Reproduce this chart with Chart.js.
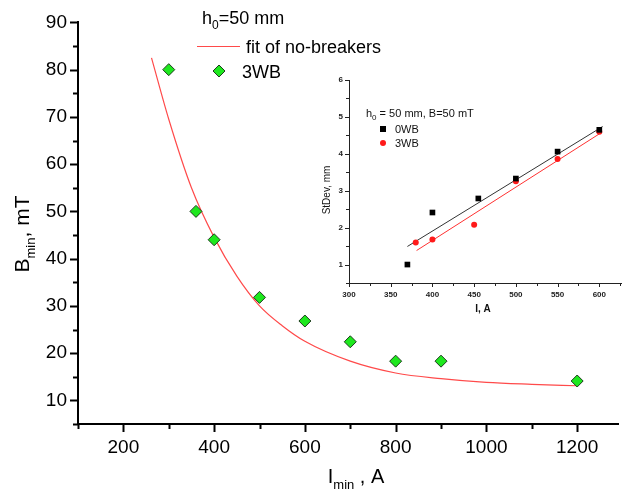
<!DOCTYPE html>
<html>
<head>
<meta charset="utf-8">
<script src="https://cdn.jsdelivr.net/npm/chart.js@4/dist/chart.umd.min.js"></script>
<style>
  html, body { margin: 0; padding: 0; background: #fff; }
  #wrap { position: relative; width: 625px; height: 491px; overflow: hidden; }
  #mainChart { position: absolute; left: 0; top: 0; }
  #insetChart { position: absolute; left: 300px; top: 60px; }
</style>
</head>
<body>
<div id="wrap">
  <canvas id="mainChart" width="625" height="491"></canvas>
  <canvas id="insetChart" width="325" height="260"></canvas>
</div>
<script>
"use strict";

// ---------- Data: main chart ----------
const fitI = [262, 300, 350, 400, 450, 500, 550, 600, 700, 800, 900, 1000, 1100, 1200];
const fitB = [82.5, 69.5, 55, 44.5, 36.3, 30, 25.8, 22.5, 18.3, 15.8, 14.6, 13.8, 13.4, 13.1];
const wb3I = [300, 360, 400, 500, 600, 700, 800, 900, 1200];
const wb3B = [80, 50, 44, 31.8, 26.8, 22.4, 18.3, 18.3, 14.1];

const mainXMajor = [200, 400, 600, 800, 1000, 1200];
const mainXMinor = [100, 300, 500, 700, 900, 1100];
const mainYMajor = [10, 20, 30, 40, 50, 60, 70, 80, 90];
const mainYMinor = [5, 15, 25, 35, 45, 55, 65, 75, 85];

// ---------- Data: inset ----------
const ins0I = [370, 400, 455, 500, 550, 600];
const ins0S = [1.0, 2.41, 2.79, 3.33, 4.06, 4.65];
const ins3I = [380, 400, 450, 500, 550, 600];
const ins3S = [1.6, 1.68, 2.08, 3.26, 3.86, 4.6];
const fit0I = [370, 604];
const fit0S = [1.49, 4.74];
const fit3I = [381, 600];
const fit3S = [1.38, 4.54];

const insXMajor = [300, 350, 400, 450, 500, 550, 600];
const insXMinor = [325, 375, 425, 475, 525, 575, 625];
const insYMajor = [1, 2, 3, 4, 5, 6];
const insYMinor = [0.5, 1.5, 2.5, 3.5, 4.5, 5.5];

const FONT = "'Liberation Sans', Arial, sans-serif";

function pts(xs, ys) {
  return xs.map((x, i) => ({ x, y: ys[i] }));
}

// text with subscripts: parts = [[text, isSub], ...]
function drawParts(ctx, parts, x, y, size, subSize, subDrop, align, weight) {
  const w = weight ? weight + " " : "";
  let total = 0;
  for (const [t, sub] of parts) {
    ctx.font = w + (sub ? subSize : size) + "px " + FONT;
    total += ctx.measureText(t).width;
  }
  let cx = align === "center" ? x - total / 2 : x;
  for (const [t, sub] of parts) {
    ctx.font = w + (sub ? subSize : size) + "px " + FONT;
    ctx.fillText(t, cx, sub ? y + subDrop : y);
    cx += ctx.measureText(t).width;
  }
}

function tickPlugin(id, marks, color, width) {
  return {
    id,
    afterDraw(chart) {
      const ctx = chart.ctx;
      ctx.save();
      ctx.strokeStyle = color;
      ctx.lineWidth = width;
      for (const [scaleId, list, len] of marks) {
        const s = chart.scales[scaleId];
        for (const v of list) {
          const p = Math.round(s.getPixelForValue(v)) + 0.5;
          ctx.beginPath();
          if (s.isHorizontal()) {
            const y0 = chart.chartArea.bottom;
            ctx.moveTo(p, y0);
            ctx.lineTo(p, y0 + len);
          } else {
            const x0 = chart.chartArea.left;
            ctx.moveTo(x0, p);
            ctx.lineTo(x0 - len, p);
          }
          ctx.stroke();
        }
      }
      ctx.restore();
    }
  };
}

function fixTicks(list) {
  return function (scale) {
    scale.ticks = list.map(v => ({ value: v }));
  };
}

const plainLabel = v => String(v);

// ---------- Main chart ----------
const mainText = {
  id: "mainText",
  afterDraw(chart) {
    const ctx = chart.ctx;
    ctx.save();
    ctx.fillStyle = "#000";
    ctx.textBaseline = "alphabetic";
    ctx.textAlign = "left";

    // x title
    drawParts(ctx, [["I", 0], ["min", 1], [" , A", 0]], 356, 483, 20, 13, 6, "center");

    // y title
    ctx.translate(29, 234);
    ctx.rotate(-Math.PI / 2);
    drawParts(ctx, [["B", 0], ["min", 1], [", mT", 0]], 0, 0, 21, 13, 6, "center");
    ctx.setTransform(1, 0, 0, 1, 0, 0);

    // legend
    drawParts(ctx, [["h", 0], ["0", 1], ["=50 mm", 0]], 202, 24, 18, 12, 5, "left");
    ctx.strokeStyle = "#ff4a4a";
    ctx.lineWidth = 1;
    ctx.beginPath();
    ctx.moveTo(197, 46.5);
    ctx.lineTo(240, 46.5);
    ctx.stroke();
    ctx.font = "18px " + FONT;
    ctx.fillText(chart.data.datasets[1].label, 246, 53);

    ctx.fillStyle = "#1ee81e";
    ctx.strokeStyle = "#1d3b1d";
    ctx.beginPath();
    ctx.moveTo(213, 71);
    ctx.lineTo(219, 65);
    ctx.lineTo(225, 71);
    ctx.lineTo(219, 77);
    ctx.closePath();
    ctx.fill();
    ctx.stroke();
    ctx.fillStyle = "#000";
    ctx.fillText(chart.data.datasets[0].label, 242, 78);
    ctx.restore();
  }
};

new Chart(document.getElementById("mainChart"), {
  type: "scatter",
  data: {
    datasets: [
      {
        label: "3WB",
        data: pts(wb3I, wb3B),
        pointStyle: "rectRot",
        pointRadius: 6,
        backgroundColor: "#1ee81e",
        borderColor: "#1d3b1d",
        borderWidth: 1
      },
      {
        label: "fit of no-breakers",
        data: pts(fitI, fitB),
        showLine: true,
        pointRadius: 0,
        borderColor: "#ff4a4a",
        borderWidth: 1.2,
        cubicInterpolationMode: "monotone"
      }
    ]
  },
  options: {
    responsive: false,
    animation: false,
    layout: { padding: { top: 18, right: 0, left: 0, bottom: 0 } },
    plugins: { legend: { display: false }, tooltip: { enabled: false } },
    scales: {
      x: {
        type: "linear",
        min: 100,
        max: 1290,
        afterBuildTicks: fixTicks(mainXMajor),
        afterFit: s => { s.height = 67; },
        grid: { display: false, drawTicks: false },
        border: { color: "#000", width: 2 },
        ticks: {
          autoSkip: false,
          maxRotation: 0,
          padding: 12,
          color: "#000",
          callback: plainLabel,
          font: { family: FONT, size: 19 }
        }
      },
      y: {
        type: "linear",
        min: 5,
        max: 90,
        afterBuildTicks: fixTicks(mainYMajor),
        afterFit: s => { s.width = 78; },
        grid: { display: false, drawTicks: false },
        border: { color: "#000", width: 2 },
        ticks: {
          autoSkip: false,
          padding: 11,
          color: "#000",
          callback: plainLabel,
          font: { family: FONT, size: 19 }
        }
      }
    }
  },
  plugins: [
    tickPlugin("mainTicks", [
      ["x", mainXMajor, 8], ["x", mainXMinor, 5],
      ["y", mainYMajor, 8], ["y", mainYMinor, 5]
    ], "#000", 2),
    mainText
  ]
});

// ---------- Inset chart ----------
const insetText = {
  id: "insetText",
  afterDraw(chart) {
    const ctx = chart.ctx;
    ctx.save();
    ctx.fillStyle = "#111";
    ctx.textBaseline = "alphabetic";

    drawParts(ctx, [["I, A", 0]], 183, 252, 10, 10, 0, "center", "bold");

    ctx.translate(30, 130);
    ctx.rotate(-Math.PI / 2);
    drawParts(ctx, [["StDev, mm", 0]], 0, 0, 10, 10, 0, "center");
    ctx.setTransform(1, 0, 0, 1, 0, 0);

    drawParts(ctx, [["h", 0], ["0", 1], [" = 50 mm, B=50 mT", 0]], 66, 57, 11, 8, 3, "left");

    ctx.fillStyle = "#000";
    ctx.fillRect(80, 66, 6, 6);
    ctx.fillStyle = "#ff1a1a";
    ctx.beginPath();
    ctx.arc(83, 83, 3, 0, Math.PI * 2);
    ctx.fill();
    ctx.fillStyle = "#111";
    ctx.font = "11px " + FONT;
    ctx.fillText(chart.data.datasets[0].label, 95, 73);
    ctx.fillText(chart.data.datasets[1].label, 95, 87);
    ctx.restore();
  }
};

new Chart(document.getElementById("insetChart"), {
  type: "scatter",
  data: {
    datasets: [
      {
        label: "0WB",
        data: pts(ins0I, ins0S),
        pointStyle: "rect",
        pointRadius: 4,
        backgroundColor: "#000",
        borderColor: "#000",
        borderWidth: 0
      },
      {
        label: "3WB",
        data: pts(ins3I, ins3S),
        pointStyle: "circle",
        pointRadius: 3,
        backgroundColor: "#ff1a1a",
        borderColor: "#ff1a1a",
        borderWidth: 0
      },
      {
        label: "fit 0WB",
        data: pts(fit0I, fit0S),
        showLine: true,
        pointRadius: 0,
        borderColor: "#333",
        borderWidth: 1
      },
      {
        label: "fit 3WB",
        data: pts(fit3I, fit3S),
        showLine: true,
        pointRadius: 0,
        borderColor: "#ff3030",
        borderWidth: 1
      }
    ]
  },
  options: {
    responsive: false,
    animation: false,
    layout: { padding: { top: 20, right: 0, left: 0, bottom: 0 } },
    plugins: { legend: { display: false }, tooltip: { enabled: false } },
    scales: {
      x: {
        type: "linear",
        min: 300,
        max: 626,
        afterBuildTicks: fixTicks(insXMajor),
        afterFit: s => { s.height = 37; },
        grid: { display: false, drawTicks: false },
        border: { color: "#222", width: 1 },
        ticks: {
          autoSkip: false,
          maxRotation: 0,
          padding: 7,
          color: "#222",
          callback: plainLabel,
          font: { family: FONT, size: 8, weight: "bold" }
        }
      },
      y: {
        type: "linear",
        min: 0.5,
        max: 6,
        afterBuildTicks: fixTicks(insYMajor),
        afterFit: s => { s.width = 49; },
        grid: { display: false, drawTicks: false },
        border: { color: "#222", width: 1 },
        ticks: {
          autoSkip: false,
          padding: 6,
          color: "#222",
          callback: plainLabel,
          font: { family: FONT, size: 8, weight: "bold" }
        }
      }
    }
  },
  plugins: [
    tickPlugin("insetTicks", [
      ["x", insXMajor, 4], ["x", insXMinor, 3],
      ["y", insYMajor, 4], ["y", insYMinor, 3]
    ], "#222", 1),
    insetText
  ]
});
</script>
</body>
</html>
